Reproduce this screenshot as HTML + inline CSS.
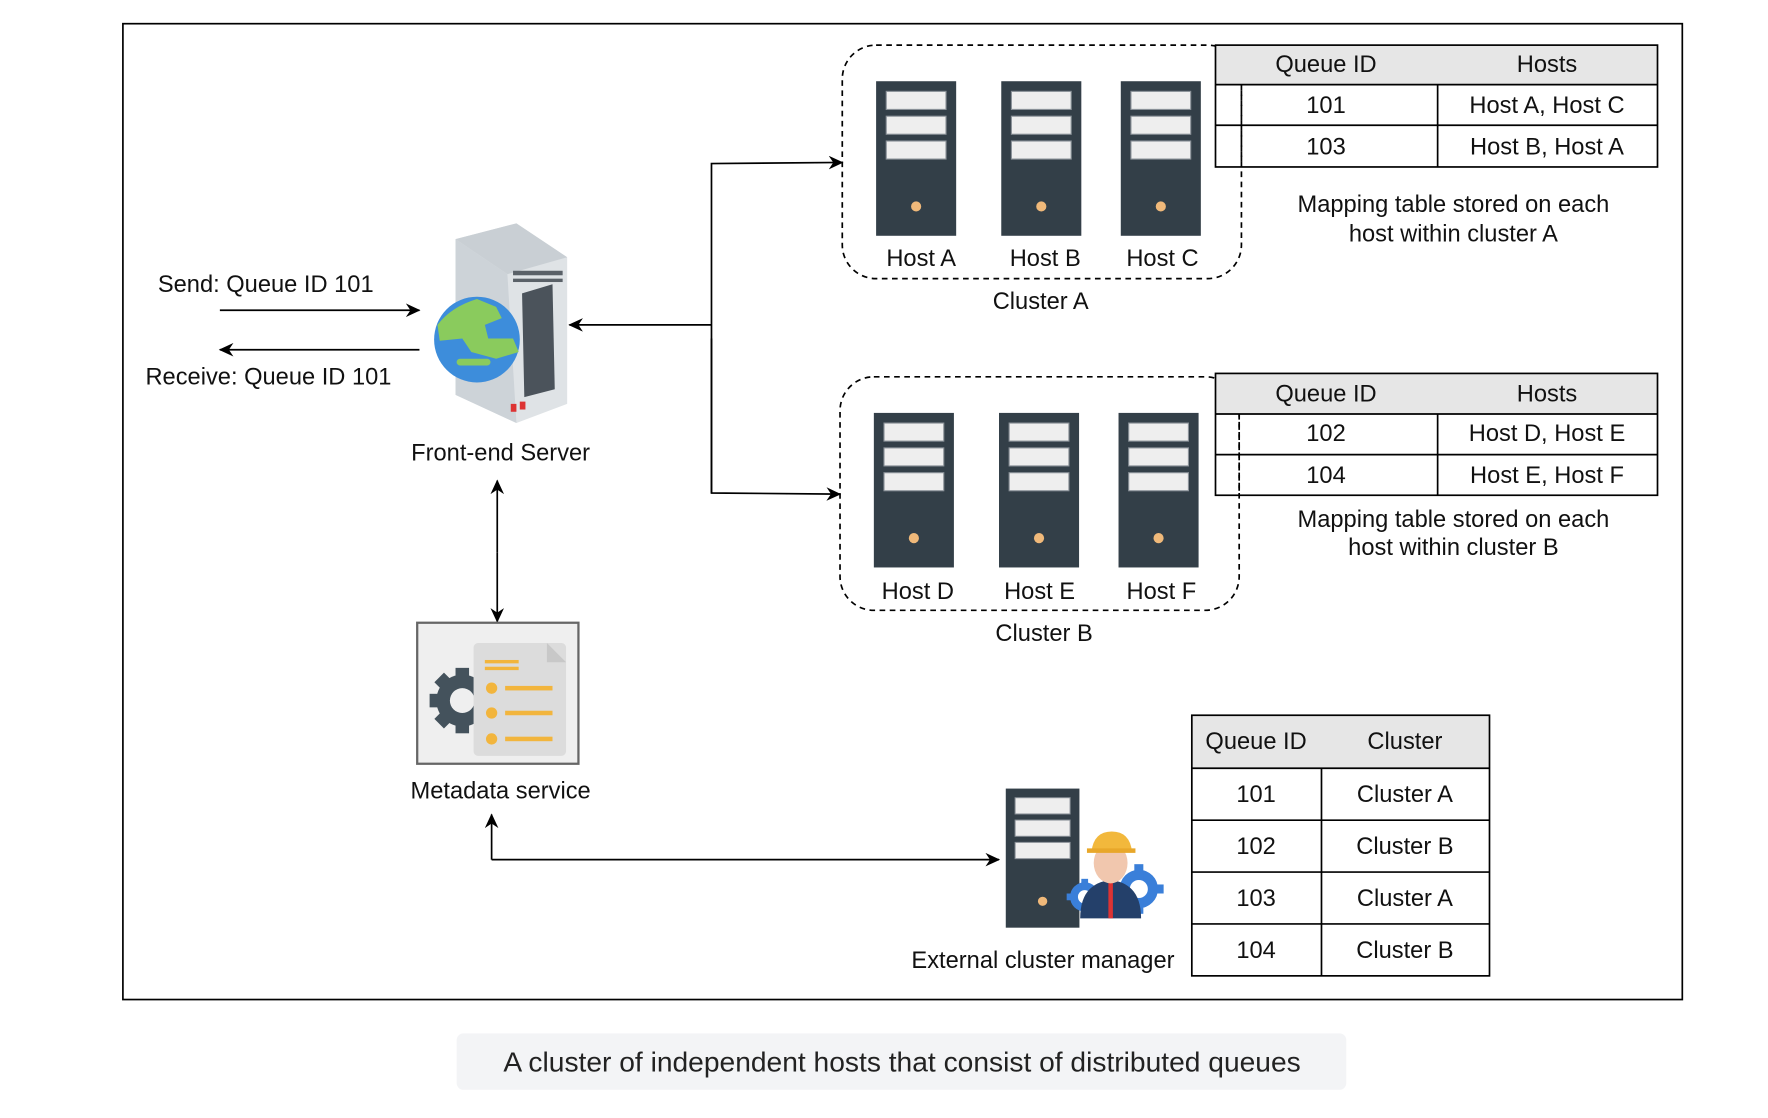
<!DOCTYPE html>
<html><head><meta charset="utf-8"><style>
html,body{margin:0;padding:0;background:#fff;}
svg{display:block;}
text{font-family:"Liberation Sans",sans-serif;font-size:21px;fill:#111;}
</style></head><body>
<svg width="1768" height="1118" viewBox="0 0 1568 991" preserveAspectRatio="none" xmlns="http://www.w3.org/2000/svg">
<defs>
<marker id="ar" markerWidth="13" markerHeight="12" refX="12" refY="6" orient="auto" markerUnits="userSpaceOnUse">
<path d="M0,0 L13,6 L0,12 L4,6 Z" fill="#000"/></marker>
<g id="srv">
<rect x="0" y="0" width="71" height="137" fill="#333f48"/>
<rect x="9" y="9" width="53" height="16" fill="#eee" stroke="#8a9198" stroke-width="1"/>
<rect x="9" y="31" width="53" height="16" fill="#eee" stroke="#8a9198" stroke-width="1"/>
<rect x="9" y="53" width="53" height="16" fill="#eee" stroke="#8a9198" stroke-width="1"/>
<circle cx="35.5" cy="111" r="4.5" fill="#f0b97a"/>
</g>
</defs>
<rect x="109" y="21" width="1383" height="865" fill="none" stroke="#000" stroke-width="1.5"/>

<!-- Cluster A -->
<rect x="747" y="40" width="354" height="207" rx="30" fill="none" stroke="#000" stroke-width="1.5" stroke-dasharray="5,4"/>
<use href="#srv" x="777" y="72"/><use href="#srv" x="888" y="72"/><use href="#srv" x="994" y="72"/>
<text x="817" y="236" text-anchor="middle">Host A</text>
<text x="927" y="236" text-anchor="middle">Host B</text>
<text x="1031" y="236" text-anchor="middle">Host C</text>
<text x="923" y="274" text-anchor="middle">Cluster A</text>

<!-- Table A -->
<rect x="1078" y="40" width="392" height="35" fill="#e6e6e6"/>
<rect x="1078" y="40" width="392" height="108" fill="none" stroke="#000" stroke-width="1.5"/>
<line x1="1078" y1="75" x2="1470" y2="75" stroke="#000" stroke-width="1.5"/>
<line x1="1078" y1="111" x2="1470" y2="111" stroke="#000" stroke-width="1.5"/>
<line x1="1275" y1="75" x2="1275" y2="148" stroke="#000" stroke-width="1.5"/>
<line x1="1101" y1="75" x2="1101" y2="148" stroke="#000" stroke-width="1.5" stroke-dasharray="5,4"/>
<text x="1176" y="64" text-anchor="middle">Queue ID</text><text x="1372" y="64" text-anchor="middle">Hosts</text>
<text x="1176" y="100" text-anchor="middle">101</text><text x="1372" y="100" text-anchor="middle">Host A, Host C</text>
<text x="1176" y="137" text-anchor="middle">103</text><text x="1372" y="137" text-anchor="middle">Host B, Host A</text>
<text x="1289" y="188" text-anchor="middle">Mapping table stored on each</text>
<text x="1289" y="214" text-anchor="middle">host within cluster A</text>

<!-- Cluster B -->
<rect x="745" y="334" width="354" height="207" rx="30" fill="none" stroke="#000" stroke-width="1.5" stroke-dasharray="5,4"/>
<use href="#srv" x="775" y="366"/><use href="#srv" x="886" y="366"/><use href="#srv" x="992" y="366"/>
<text x="814" y="531" text-anchor="middle">Host D</text>
<text x="922" y="531" text-anchor="middle">Host E</text>
<text x="1030" y="531" text-anchor="middle">Host F</text>
<text x="926" y="568" text-anchor="middle">Cluster B</text>

<!-- Table B -->
<rect x="1078" y="331" width="392" height="36" fill="#e6e6e6"/>
<rect x="1078" y="331" width="392" height="108" fill="none" stroke="#000" stroke-width="1.5"/>
<line x1="1078" y1="367" x2="1470" y2="367" stroke="#000" stroke-width="1.5"/>
<line x1="1078" y1="403" x2="1470" y2="403" stroke="#000" stroke-width="1.5"/>
<line x1="1275" y1="367" x2="1275" y2="439" stroke="#000" stroke-width="1.5"/>
<line x1="1099" y1="367" x2="1099" y2="439" stroke="#000" stroke-width="1.5" stroke-dasharray="5,4"/>
<text x="1176" y="356" text-anchor="middle">Queue ID</text><text x="1372" y="356" text-anchor="middle">Hosts</text>
<text x="1176" y="391" text-anchor="middle">102</text><text x="1372" y="391" text-anchor="middle">Host D, Host E</text>
<text x="1176" y="428" text-anchor="middle">104</text><text x="1372" y="428" text-anchor="middle">Host E, Host F</text>
<text x="1289" y="467" text-anchor="middle">Mapping table stored on each</text>
<text x="1289" y="492" text-anchor="middle">host within cluster B</text>

<!-- Front-end server icon -->
<polygon points="404,212 458,198 503,228 503,358 458,375 404,350" fill="#dfe3e6"/>
<polygon points="404,212 458,198 503,228 450,243" fill="#c9cfd4"/>
<polygon points="404,212 450,243 458,375 404,350" fill="#cdd3d8"/>
<rect x="455" y="240" width="44" height="4" fill="#5a6168"/>
<rect x="455" y="247" width="44" height="3" fill="#5a6168"/>
<polygon points="463,260 490,252 492,345 465,352" fill="#4b535b"/>
<rect x="453" y="358" width="5" height="7" fill="#d33"/><rect x="461" y="356" width="5" height="7" fill="#d33"/>
<circle cx="423" cy="301" r="38" fill="#3d8ddb"/>
<path d="M388,288 Q400,272 423,265 L440,272 L445,282 L430,288 L433,300 L455,300 L460,312 L440,318 L418,312 L410,300 L390,302 Z" fill="#8acb5d"/>
<rect x="405" y="318" width="30" height="6" rx="3" fill="#8acb5d"/>
<text x="444" y="408" text-anchor="middle">Front-end Server</text>

<text x="140" y="259">Send: Queue ID 101</text>
<line x1="195" y1="275" x2="372" y2="275" stroke="#000" stroke-width="1.5" marker-end="url(#ar)"/>
<line x1="372" y1="310" x2="195" y2="310" stroke="#000" stroke-width="1.5" marker-end="url(#ar)"/>
<text x="129" y="341">Receive: Queue ID 101</text>

<!-- connectors -->
<line x1="631" y1="288" x2="505" y2="288" stroke="#000" stroke-width="1.5" marker-end="url(#ar)"/>
<polyline points="631,437 631,145 747,144" fill="none" stroke="#000" stroke-width="1.5" marker-end="url(#ar)"/>
<polyline points="631,300 631,437 745,438" fill="none" stroke="#000" stroke-width="1.5" marker-end="url(#ar)"/>
<line x1="441" y1="490" x2="441" y2="426" stroke="#000" stroke-width="1.5" marker-end="url(#ar)"/>
<line x1="441" y1="490" x2="441" y2="551" stroke="#000" stroke-width="1.5" marker-end="url(#ar)"/>

<!-- Metadata -->
<rect x="370" y="552" width="143" height="125" fill="#efefef" stroke="#666" stroke-width="2"/>
<g fill="#44525c">
<circle cx="410" cy="621" r="23"/>
<rect x="404" y="592" width="12" height="58"/>
<rect x="381" y="615" width="58" height="12"/>
<rect x="404" y="592" width="12" height="58" transform="rotate(45 410 621)"/>
<rect x="404" y="592" width="12" height="58" transform="rotate(-45 410 621)"/>
</g>
<circle cx="410" cy="621" r="11" fill="#efefef"/>
<rect x="420" y="570" width="82" height="100" rx="4" fill="#dcdcdc"/>
<polygon points="485,570 502,587 485,587" fill="#c8c8c8"/>
<rect x="430" y="585" width="30" height="3" fill="#f2b53d"/><rect x="430" y="591" width="30" height="3" fill="#f2b53d"/>
<circle cx="436" cy="610" r="5" fill="#f2b53d"/><rect x="448" y="608" width="42" height="4" fill="#f2b53d"/>
<circle cx="436" cy="632" r="5" fill="#f2b53d"/><rect x="448" y="630" width="42" height="4" fill="#f2b53d"/>
<circle cx="436" cy="655" r="5" fill="#f2b53d"/><rect x="448" y="653" width="42" height="4" fill="#f2b53d"/>
<text x="444" y="708" text-anchor="middle">Metadata service</text>

<polyline points="436,762 886,762" fill="none" stroke="#000" stroke-width="1.5" marker-end="url(#ar)"/>
<line x1="436" y1="762" x2="436" y2="722" stroke="#000" stroke-width="1.5" marker-end="url(#ar)"/>

<!-- External cluster manager -->
<g transform="translate(892,699) scale(0.92,0.9)"><use href="#srv"/></g>
<g fill="#3a7fd9">
<circle cx="1010" cy="788" r="17"/>
<rect x="1006" y="766" width="8" height="44"/><rect x="988" y="784" width="44" height="8"/>
<circle cx="962" cy="795" r="13"/>
<rect x="959" y="779" width="6" height="32"/><rect x="946" y="792" width="32" height="6"/>
</g>
<circle cx="1010" cy="788" r="8" fill="#fff"/>
<circle cx="962" cy="795" r="6" fill="#fff"/>
<path d="M958,814 Q958,783 985,780 Q1012,783 1012,814 Z" fill="#24406a"/>
<rect x="983" y="782" width="4" height="32" fill="#d33"/>
<ellipse cx="985" cy="765" rx="15" ry="18" fill="#f1c7ae"/>
<path d="M968,755 Q970,737 986,737 Q1002,737 1004,755 Z" fill="#f2b83c"/>
<rect x="964" y="752" width="43" height="4" fill="#e8a72a"/>
<text x="925" y="858" text-anchor="middle">External cluster manager</text>

<!-- Table C -->
<rect x="1057" y="634" width="264" height="47" fill="#e6e6e6"/>
<rect x="1057" y="634" width="264" height="231" fill="none" stroke="#000" stroke-width="1.5"/>
<line x1="1057" y1="681" x2="1321" y2="681" stroke="#000" stroke-width="1.5"/>
<line x1="1057" y1="727" x2="1321" y2="727" stroke="#000" stroke-width="1.5"/>
<line x1="1057" y1="773" x2="1321" y2="773" stroke="#000" stroke-width="1.5"/>
<line x1="1057" y1="819" x2="1321" y2="819" stroke="#000" stroke-width="1.5"/>
<line x1="1172" y1="681" x2="1172" y2="865" stroke="#000" stroke-width="1.5"/>
<text x="1114" y="664" text-anchor="middle">Queue ID</text><text x="1246" y="664" text-anchor="middle">Cluster</text>
<text x="1114" y="711" text-anchor="middle">101</text><text x="1246" y="711" text-anchor="middle">Cluster A</text>
<text x="1114" y="757" text-anchor="middle">102</text><text x="1246" y="757" text-anchor="middle">Cluster B</text>
<text x="1114" y="803" text-anchor="middle">103</text><text x="1246" y="803" text-anchor="middle">Cluster A</text>
<text x="1114" y="849" text-anchor="middle">104</text><text x="1246" y="849" text-anchor="middle">Cluster B</text>

<!-- caption -->
<rect x="405" y="916" width="789" height="50" rx="6" fill="#f3f4f6"/>
<text x="800" y="950" text-anchor="middle" style="font-size:25px;fill:#222">A cluster of independent hosts that consist of distributed queues</text>
</svg>
</body></html>
